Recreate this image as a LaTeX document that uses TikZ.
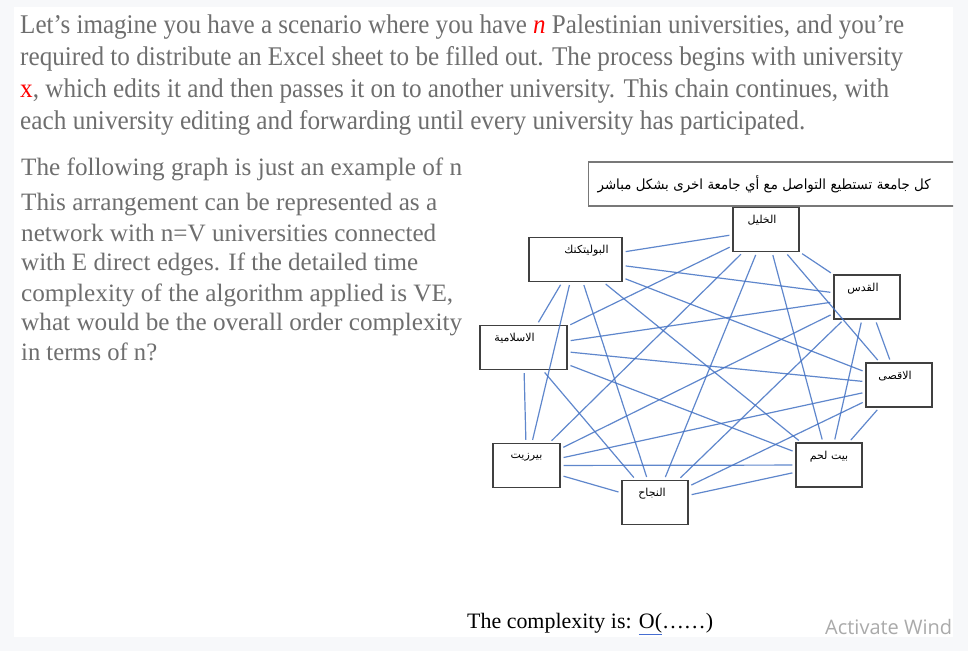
\documentclass[tikz,border=0pt]{standalone}
\usepackage{fontspec}
\usepackage{graphicx}
\setmainfont{Liberation Serif}
\newfontfamily\arabicfont[Script=Arabic]{DejaVu Sans}
\newfontfamily\wmfont{Open Sans}
\TeXXeTstate=1

\definecolor{pagebg}{RGB}{247,248,250}
\definecolor{txtgray}{RGB}{110,110,110}
\definecolor{edgeblue}{RGB}{68,114,196}
\definecolor{boxline}{RGB}{64,64,64}
\definecolor{noteline}{RGB}{120,120,120}
\definecolor{wmgray}{RGB}{170,170,170}
\definecolor{ulblue}{RGB}{70,110,210}

% stretch one printed line to the width it has in the picture
\newcommand{\linefit}[2]{\resizebox{#1}{\height}{#2}}
\newcommand{\artext}[1]{{\arabicfont\beginR #1\endR}}

\begin{document}
\begin{tikzpicture}[
                x=1pt, y=-1pt,
                uni/.style={draw=boxline, line width=1.3pt, inner sep=0pt, minimum width=66pt, minimum height=44pt, text depth=20pt, font=\fontsize{11}{13}\selectfont},
                edge/.style={draw=edgeblue, line width=1.2pt, opacity=0.85, shorten >=3pt, shorten <=3pt},
                para/.style={anchor=base west, inner sep=0pt, text=txtgray, font=\fontsize{25}{30}\selectfont},
                notebox/.style={draw=noteline, line width=1.3pt, minimum height=44pt, text width=394pt, inner xsep=9pt, align=left, font=\fontsize{14}{16}\selectfont}
            ]
                \useasboundingbox (0,0) rectangle (968,651);
                \fill[pagebg] (0,0) rectangle (968,651);
                \fill[white] (14,7) rectangle (953,637);

                % question text
                \node [para, font=\fontsize{27}{30}\selectfont] (intro1) at (20,33) {\linefit{884pt}{Let's imagine you have a scenario where you have \textcolor{red}{\textit{n}} Palestinian universities, and you're}};
                \node [para, font=\fontsize{27}{30}\selectfont] (intro2) at (20,65) {\linefit{883pt}{required to distribute an Excel sheet to be filled out. The process begins with university}};
                \node [para, font=\fontsize{27}{30}\selectfont] (intro3) at (20,97) {\linefit{869pt}{\textcolor{red}{x}, which edits it and then passes it on to another university. This chain continues, with}};
                \node [para, font=\fontsize{27}{30}\selectfont] (intro4) at (20,129) {\linefit{785pt}{each university editing and forwarding until every university has participated.}};

                \node [para] (ask1) at (21,175) {\linefit{441pt}{The following graph is just an example of n}};
                \node [para] (ask2) at (21,210) {\linefit{416pt}{This arrangement can be represented as a}};
                \node [para] (ask3) at (21,241) {\linefit{415pt}{network with n=V universities connected}};
                \node [para] (ask4) at (21,270) {\linefit{397pt}{with E direct edges. If the detailed time}};
                \node [para] (ask5) at (21,301) {\linefit{432pt}{complexity of the algorithm applied is VE,}};
                \node [para] (ask6) at (21,330) {\linefit{441pt}{what would be the overall order complexity}};
                \node [para] (ask7) at (21,360) {\linefit{136pt}{in terms of n?}};

                % universities
                \node [uni] (khalil) at (766,229.5) {\artext{الخليل}\hspace*{8pt}};
                \node [uni] (quds) at (867,297) {\artext{القدس}\hspace*{8pt}};
                \node [uni] (aqsa) at (899,385) {\artext{الاقصى}\hspace*{8pt}};
                \node [uni, minimum width=93pt] (poly) at (575.5,259.5) {\hspace*{22pt}\artext{البوليتكنك}};
                \node [uni, minimum width=87pt] (islamia) at (523.5,347.5) {\artext{الاسلامية}\hspace*{18pt}};
                \node [uni, minimum width=67pt] (birzeit) at (526.5,465.5) {\artext{بيرزيت}};
                \node [uni] (najah) at (655,502.5) {\artext{النجاح}\hspace*{6pt}};
                \node [uni] (bethlehem) at (829,465) {\artext{بيت لحم}};

                % every university linked to every other one
                \foreach \a [count=\i] in {khalil,quds,aqsa,bethlehem,najah,birzeit,islamia,poly} {
                    \foreach \b [count=\j] in {khalil,quds,aqsa,bethlehem,najah,birzeit,islamia,poly} {
                        \ifnum\j>\i \path [edge] (\a) -- (\b); \fi
                    }
                }

                \node [inner sep=0pt, anchor=base west, font=\fontsize{22}{26}\selectfont] (result) at (467,628) {\linefit{246pt}{The complexity is: \textcolor{ulblue}{\underline{\textcolor{black}{O(}}}……)}};

                \begin{scope}
                    \clip (14,7) rectangle (953,637);
                    \node [notebox, anchor=west] (note) at (588,184) {\linefit{333pt}{\artext{كل جامعة تستطيع التواصل مع أي جامعة اخرى بشكل مباشر}}};
                \end{scope}
                \node [inner sep=0pt, anchor=base west, text=wmgray, font=\wmfont\fontsize{20}{24}\selectfont] (watermark) at (825,634) {\linefit{127pt}{Activate Wind}};
            \end{tikzpicture}
\end{document}
